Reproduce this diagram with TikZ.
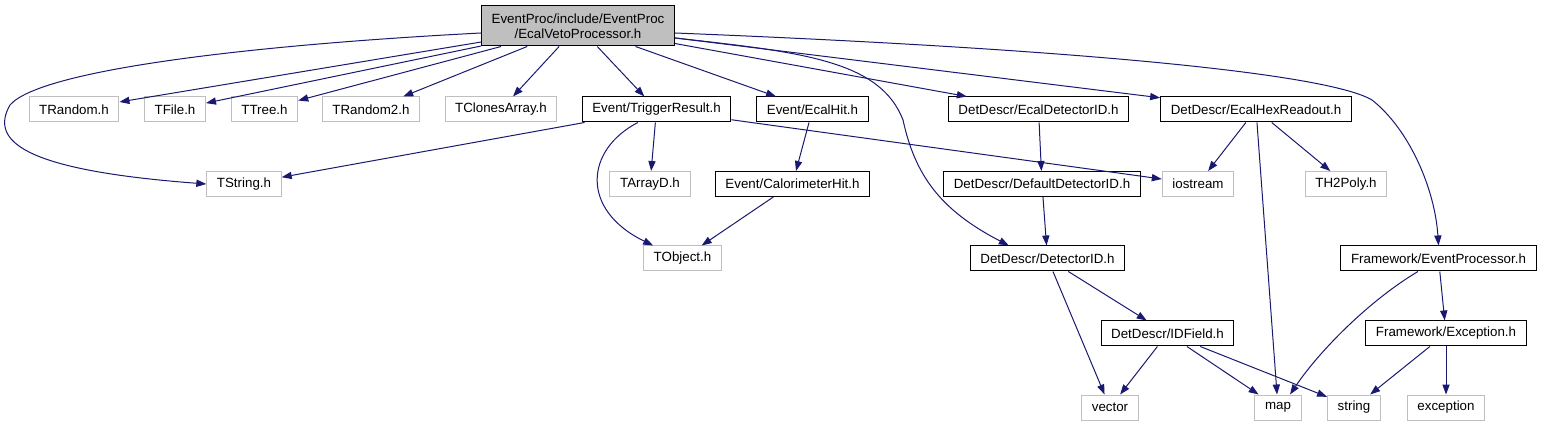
\documentclass[tikz,border=0pt]{standalone}
\usepackage{fontspec}
\setmainfont{Liberation Sans}
\usetikzlibrary{arrows.meta}
\definecolor{depblue}{HTML}{191970}

\begin{document}
\begin{tikzpicture}[
    x=0.75pt, y=-0.75pt,
    font=\fontsize{10}{11.5}\selectfont,
    hdr/.style={rectangle, draw=black, fill=white, line width=0.75pt,
        inner xsep=7.6pt, inner ysep=0pt, minimum height=18.75pt},
    syshdr/.style={hdr, draw=black!25},
    tophdr/.style={hdr, fill=black!25, minimum height=30pt, align=center},
    dep/.style={-{Triangle[length=7.5pt, width=5.4pt]}, draw=depblue, line width=0.75pt}
]
\useasboundingbox (0,0) rectangle (1541,427);

\node[tophdr] (root) at (578,26) {EventProc/include/EventProc\\/EcalVetoProcessor.h};

\node[syshdr] (trandom) at (74,109.5) {TRandom.h};
\node[syshdr] (tfile) at (175,109.5) {TFile.h};
\node[syshdr] (ttree) at (264.5,109.5) {TTree.h};
\node[syshdr] (trandom2) at (371,109.5) {TRandom2.h};
\node[syshdr] (tclones) at (501,109.5) {TClonesArray.h};
\node[hdr] (trigres) at (656.5,109.5) {Event/TriggerResult.h};
\node[hdr] (ecalhit) at (812.5,109.5) {Event/EcalHit.h};
\node[hdr] (ecaldetid) at (1038.5,109.5) {DetDescr/EcalDetectorID.h};
\node[hdr] (hexread) at (1256,109.5) {DetDescr/EcalHexReadout.h};

\node[syshdr] (tstring) at (244,184) {TString.h};
\node[syshdr] (tarrayd) at (650,184) {TArrayD.h};
\node[hdr] (calohit) at (792.5,184) {Event/CalorimeterHit.h};
\node[hdr] (defdetid) at (1042,184) {DetDescr/DefaultDetectorID.h};
\node[syshdr] (iostrm) at (1198,184) {iostream};
\node[syshdr] (th2poly) at (1346,184) {TH2Poly.h};

\node[syshdr] (tobject) at (682.5,258.5) {TObject.h};
\node[hdr] (detid) at (1047.5,258.5) {DetDescr/DetectorID.h};
\node[hdr] (evproc) at (1438.5,258.5) {Framework/EventProcessor.h};

\node[hdr] (idfield) at (1167.5,333.5) {DetDescr/IDField.h};
\node[hdr] (fwexc) at (1446,333.5) {Framework/Exception.h};

\node[syshdr] (vect) at (1110,407.5) {vector};
\node[syshdr] (stdmap) at (1278,407.5) {map};
\node[syshdr] (stdstr) at (1354,407.5) {string};
\node[syshdr] (stdexc) at (1446,407.5) {exception};

% includes of the processor header
\draw[dep] (root) -- (trandom);
\draw[dep] (root) -- (tfile);
\draw[dep] (root) -- (ttree);
\draw[dep] (root) -- (trandom2);
\draw[dep] (root) -- (tclones);
\draw[dep] (root) -- (trigres);
\draw[dep] (root) -- (ecalhit);
\draw[dep] (root) -- (ecaldetid);
\draw[dep] (root) -- (hexread);
\draw[dep] ([yshift=-5.25pt]root.west) .. controls (250,45) and (40,70) .. (10,105)
    .. controls (-10,140) and (20,170) .. (tstring.west);
\draw[dep] ([yshift=-9pt]root.east) .. controls (800,52) and (880,60) .. (903,120)
    .. controls (915,175) and (940,210) .. ([xshift=-29pt]detid.north);
\draw[dep] ([yshift=-5.25pt]root.east) .. controls (1100,50) and (1330,75) .. (1372,100)
    .. controls (1410,130) and (1435,190) .. (evproc.north);

% second level
\draw[dep] (trigres) -- (tstring);
\draw[dep] (trigres) -- (tarrayd);
\draw[dep] ([xshift=-14pt]trigres.south) .. controls (585,150) and (580,210) .. ([xshift=-22pt]tobject.north);
\draw[dep] (trigres) -- (iostrm);
\draw[dep] (ecalhit) -- (calohit);
\draw[dep] (calohit) -- (tobject);
\draw[dep] (ecaldetid) -- (defdetid);
\draw[dep] (defdetid) -- (detid);
\draw[dep] (hexread) -- (iostrm);
\draw[dep] (hexread) -- (stdmap);
\draw[dep] (hexread) -- (th2poly);

% lower levels
\draw[dep] (detid) -- (idfield);
\draw[dep] (detid) -- (vect);
\draw[dep] (idfield) -- (vect);
\draw[dep] (idfield) -- (stdmap);
\draw[dep] (idfield) -- (stdstr);
\draw[dep] ([xshift=-15.4pt]evproc.south) .. controls (1370,300) and (1320,350) .. ([xshift=9pt]stdmap.north);
\draw[dep] (evproc) -- (fwexc);
\draw[dep] (fwexc) -- (stdstr);
\draw[dep] (fwexc) -- (stdexc);
\end{tikzpicture}
\end{document}
